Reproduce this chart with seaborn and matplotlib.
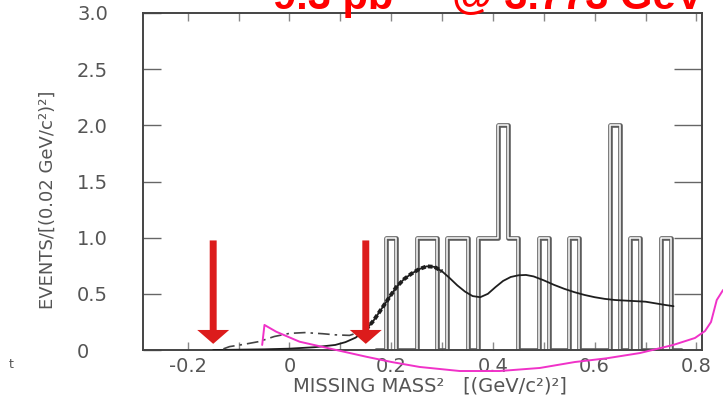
import numpy as np
import matplotlib
matplotlib.use("Agg")
import matplotlib.pyplot as plt
import seaborn as sns

# ---------------- data ----------------
bin_edges = [0.17, 0.19, 0.21, 0.23, 0.25, 0.27, 0.29, 0.31, 0.33, 0.35, 0.37,
             0.39, 0.41, 0.43, 0.45, 0.47, 0.49, 0.51, 0.53, 0.55, 0.57, 0.59,
             0.61, 0.63, 0.65, 0.67, 0.69, 0.71, 0.73, 0.75, 0.77]
bin_counts = [0, 1, 0, 0, 1, 1, 0, 1, 1, 0, 1, 1, 2, 1, 0, 0, 1, 0, 0, 1, 0, 0,
              0, 2, 0, 1, 0, 0, 1, 0]

fit_x = [-0.15, -0.10, -0.05, 0.00, 0.05, 0.09, 0.11, 0.13, 0.15, 0.165, 0.18,
         0.195, 0.21, 0.225, 0.24, 0.255, 0.27, 0.285, 0.30, 0.315, 0.33, 0.345,
         0.36, 0.375, 0.39, 0.405, 0.42, 0.435, 0.45, 0.465, 0.48, 0.50, 0.52,
         0.54, 0.56, 0.58, 0.60, 0.62, 0.64, 0.66, 0.68, 0.70, 0.72, 0.74, 0.755]
fit_y = [0.0, 0.003, 0.006, 0.012, 0.025, 0.045, 0.07, 0.11, 0.18, 0.26, 0.36,
         0.46, 0.56, 0.63, 0.68, 0.72, 0.745, 0.74, 0.70, 0.64, 0.575, 0.52,
         0.48, 0.47, 0.50, 0.56, 0.615, 0.65, 0.665, 0.668, 0.655, 0.62, 0.58,
         0.545, 0.515, 0.49, 0.47, 0.455, 0.445, 0.44, 0.435, 0.43, 0.415,
         0.40, 0.39]

signal_x = [-0.13, -0.118, -0.09, -0.06, -0.03, 0.00, 0.03, 0.065, 0.09, 0.118, 0.145]
signal_y = [0.01, 0.03, 0.05, 0.075, 0.12, 0.148, 0.155, 0.145, 0.135, 0.13, 0.17]

arrow_x = [-0.15, 0.15]

pink_x = [-0.0537, -0.0492, -0.0262, 0.0197, 0.0919, 0.151, 0.2008, 0.2559,
          0.3346, 0.4134, 0.4921, 0.561, 0.6234, 0.689, 0.7545, 0.7972, 0.8169,
          0.8287, 0.8333, 0.840, 0.8524]
pink_y = [0.045, 0.223, 0.163, 0.074, 0.0, -0.060, -0.107, -0.151, -0.187,
          -0.187, -0.160, -0.107, -0.074, -0.027, 0.045, 0.107, 0.169, 0.249,
          0.329, 0.445, 0.534]

x_ticks = [-0.2, 0.0, 0.2, 0.4, 0.6, 0.8]
x_ticklabels = ["-0.2", "0", "0.2", "0.4", "0.6", "0.8"]
y_ticks = [0, 0.5, 1.0, 1.5, 2.0, 2.5, 3.0]
y_ticklabels = ["0", "0.5", "1.0", "1.5", "2.0", "2.5", "3.0"]

title_text = "9.3 pb\u207b\u00b9  @ 3.773 GeV"
xlabel_text = "MISSING MASS\u00b2   [(GeV/c\u00b2)\u00b2]"
ylabel_text = "EVENTS/[(0.02 GeV/c\u00b2)\u00b2]"

# ---------------- style ----------------
sns.set_style("ticks")
plt.rcParams["font.family"] = ["DejaVu Sans"]
plt.rcParams["axes.unicode_minus"] = False

grey = "#555555"
fig = plt.figure(figsize=(7.23, 3.99), dpi=100)
ax = fig.add_axes([143 / 723, 1 - 350 / 399, (702 - 143) / 723, (350 - 13) / 399])

centers = [(a + b) / 2 for a, b in zip(bin_edges[:-1], bin_edges[1:])]

# histogram outline (double-line scanned look)
sns.histplot(x=centers, weights=bin_counts, bins=bin_edges, element="step",
             fill=False, color="#5c5c5c", linewidth=3.3, ax=ax, zorder=1)
sns.histplot(x=centers, weights=bin_counts, bins=bin_edges, element="step",
             fill=False, color="white", linewidth=1.1, ax=ax, zorder=1.1)

# fit curve
sns.lineplot(x=fit_x, y=fit_y, color="#1e1e1e", linewidth=1.3, ax=ax,
             estimator=None, sort=False, zorder=3)
thick = [(x, y) for x, y in zip(fit_x, fit_y) if 0.14 <= x <= 0.31]
sns.lineplot(x=[p[0] for p in thick], y=[p[1] for p in thick], color="#1e1e1e",
             linewidth=2.8, linestyle=(0, (1.2, 0.6)), ax=ax, estimator=None,
             sort=False, zorder=3)

# expected signal (dash-dot)
sns.lineplot(x=signal_x, y=signal_y, color="#444444", linewidth=1.2,
             linestyle=(0, (7, 3, 1.5, 3)), ax=ax, estimator=None, sort=False,
             zorder=3)

# red arrows
for xa in arrow_x:
    ax.annotate("", xy=(xa, 0.03), xytext=(xa, 1.0),
                arrowprops=dict(arrowstyle="simple,head_length=1.0,head_width=2.3,tail_width=0.5",
                                mutation_scale=10, color="#dc1c1c", lw=0),
                zorder=4)

# magenta hand-drawn annotation
ax.plot(pink_x, pink_y, color="#f032c8", linewidth=1.4, clip_on=False, zorder=5)

# axes
ax.set_xlim(-0.288, 0.811)
ax.set_ylim(0, 3.0)
ax.set_xticks(x_ticks)
ax.set_xticklabels(x_ticklabels)
ax.set_xticks([-0.1, 0.1, 0.3, 0.5, 0.7], minor=True)
ax.set_yticks(y_ticks)
ax.set_yticklabels(y_ticklabels, ha="left")
ax.set_xlabel("")
ax.set_ylabel("")

ax.tick_params(axis="x", which="both", direction="in", top=True, bottom=True,
               length=6, width=1, color="#888888", labelsize=14,
               labelcolor=grey, pad=5)
ax.tick_params(axis="y", which="major", direction="in", left=True, right=False,
               length=13, width=1, color="#666666", labelsize=14,
               labelcolor=grey, pad=47.5)
sec = ax.secondary_yaxis("right")
sec.set_yticks([0.5, 1.0, 1.5, 2.0, 2.5])
sec.tick_params(direction="in", length=20, width=1, color="#666666",
                labelright=False)
sec.spines["right"].set_visible(False)

for s in ax.spines.values():
    s.set_visible(True)
    s.set_color("#444444")
    s.set_linewidth(1.4)
    s.set_zorder(2.5)

ax.set_xlabel(xlabel_text, fontsize=14, color=grey)
ax.xaxis.set_label_coords(0.513, -0.078)
ax.set_ylabel(ylabel_text, fontsize=13, color=grey)
ax.yaxis.set_label_coords(-0.155, 0.445)

# title (cut at top of the image, as in the reference)
fig.text(488 / 723, 1 - 9 / 399, title_text, color="#ff0000", fontsize=30,
         fontweight="bold", ha="center", va="baseline",
         family=["Liberation Sans", "DejaVu Sans"])

# small clipped fragment at left
fig.text(11 / 723, 1 - 365 / 399, "t", color="#555555", fontsize=9,
         ha="center", va="center")

fig.savefig("out.png", dpi=100)
